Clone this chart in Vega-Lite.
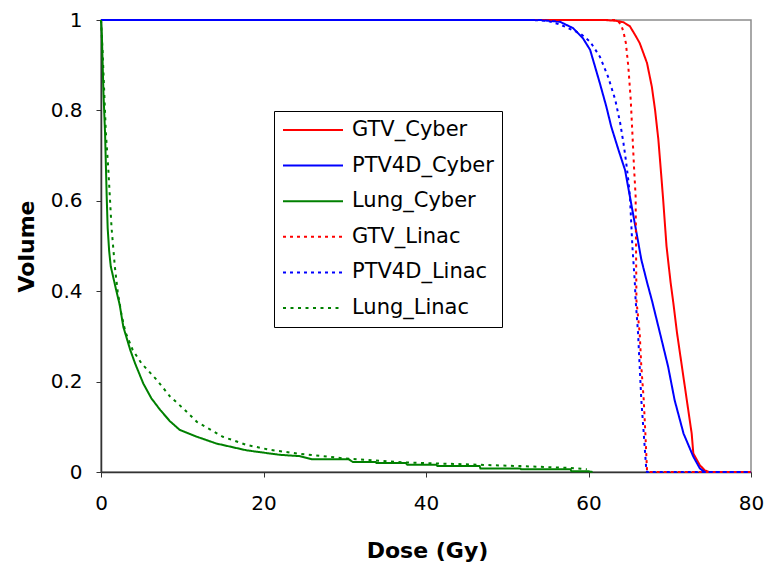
{
  "$schema": "https://vega.github.io/schema/vega-lite/v6.json",
  "autosize": "none",
  "width": 650,
  "height": 452,
  "padding": {"left": 101, "top": 20, "right": 13, "bottom": 94},
  "background": "white",
  "config": {
    "font": "DejaVu Sans",
    "view": {"stroke": "#8c8c8c", "strokeWidth": 1.5},
    "axis": {
      "grid": false,
      "domainColor": "#333333",
      "domainWidth": 1.5,
      "tickColor": "#333333",
      "tickSize": 5,
      "labelFont": "DejaVu Sans",
      "labelFontSize": 20,
      "labelColor": "black",
      "titleFont": "DejaVu Sans",
      "titleFontSize": 22,
      "titleFontWeight": "bold",
      "titleColor": "black"
    },
    "legend": {
      "orient": "none",
      "legendX": 173,
      "legendY": 91,
      "symbolType": "stroke",
      "symbolSize": 3600,
      "clipHeight": 22,
      "rowPadding": 13.6,
      "padding": 8,
      "labelOffset": 8,
      "labelFont": "DejaVu Sans",
      "labelFontSize": 21,
      "labelColor": "black",
      "strokeColor": "black",
      "fillColor": "white",
      "cornerRadius": 0
    }
  },
  "data": {
    "values": [
      {"s": "GTV_Cyber", "d": 0, "v": 1},
      {"s": "GTV_Cyber", "d": 62, "v": 1},
      {"s": "GTV_Cyber", "d": 63.5, "v": 0.998},
      {"s": "GTV_Cyber", "d": 64.3, "v": 0.995},
      {"s": "GTV_Cyber", "d": 65.1, "v": 0.986},
      {"s": "GTV_Cyber", "d": 65.8, "v": 0.965},
      {"s": "GTV_Cyber", "d": 66.3, "v": 0.949},
      {"s": "GTV_Cyber", "d": 67.2, "v": 0.905},
      {"s": "GTV_Cyber", "d": 67.8, "v": 0.852},
      {"s": "GTV_Cyber", "d": 68.2, "v": 0.8},
      {"s": "GTV_Cyber", "d": 68.6, "v": 0.735},
      {"s": "GTV_Cyber", "d": 69.0, "v": 0.646},
      {"s": "GTV_Cyber", "d": 69.2, "v": 0.6},
      {"s": "GTV_Cyber", "d": 69.6, "v": 0.5},
      {"s": "GTV_Cyber", "d": 70.1, "v": 0.42},
      {"s": "GTV_Cyber", "d": 70.4, "v": 0.38},
      {"s": "GTV_Cyber", "d": 70.9, "v": 0.307},
      {"s": "GTV_Cyber", "d": 71.5, "v": 0.233},
      {"s": "GTV_Cyber", "d": 72.1, "v": 0.159},
      {"s": "GTV_Cyber", "d": 72.7, "v": 0.085},
      {"s": "GTV_Cyber", "d": 72.9, "v": 0.041},
      {"s": "GTV_Cyber", "d": 73.7, "v": 0.015},
      {"s": "GTV_Cyber", "d": 74.3, "v": 0.004},
      {"s": "GTV_Cyber", "d": 74.8, "v": 0},
      {"s": "GTV_Cyber", "d": 80, "v": 0},

      {"s": "PTV4D_Cyber", "d": 0, "v": 1},
      {"s": "PTV4D_Cyber", "d": 54, "v": 1},
      {"s": "PTV4D_Cyber", "d": 56.5, "v": 0.996},
      {"s": "PTV4D_Cyber", "d": 58.1, "v": 0.982},
      {"s": "PTV4D_Cyber", "d": 59.3, "v": 0.96},
      {"s": "PTV4D_Cyber", "d": 60.2, "v": 0.934},
      {"s": "PTV4D_Cyber", "d": 60.8, "v": 0.897},
      {"s": "PTV4D_Cyber", "d": 61.4, "v": 0.86},
      {"s": "PTV4D_Cyber", "d": 62.2, "v": 0.808},
      {"s": "PTV4D_Cyber", "d": 62.8, "v": 0.764},
      {"s": "PTV4D_Cyber", "d": 63.7, "v": 0.712},
      {"s": "PTV4D_Cyber", "d": 64.5, "v": 0.668},
      {"s": "PTV4D_Cyber", "d": 65.1, "v": 0.609},
      {"s": "PTV4D_Cyber", "d": 65.8, "v": 0.54},
      {"s": "PTV4D_Cyber", "d": 66.5, "v": 0.47},
      {"s": "PTV4D_Cyber", "d": 67.2, "v": 0.42},
      {"s": "PTV4D_Cyber", "d": 67.8, "v": 0.38},
      {"s": "PTV4D_Cyber", "d": 68.8, "v": 0.307},
      {"s": "PTV4D_Cyber", "d": 69.8, "v": 0.233},
      {"s": "PTV4D_Cyber", "d": 70.6, "v": 0.159},
      {"s": "PTV4D_Cyber", "d": 71.7, "v": 0.085},
      {"s": "PTV4D_Cyber", "d": 72.9, "v": 0.034},
      {"s": "PTV4D_Cyber", "d": 73.7, "v": 0.008},
      {"s": "PTV4D_Cyber", "d": 74.3, "v": 0},
      {"s": "PTV4D_Cyber", "d": 80, "v": 0},

      {"s": "Lung_Cyber", "d": 0, "v": 1},
      {"s": "Lung_Cyber", "d": 0.1, "v": 0.97},
      {"s": "Lung_Cyber", "d": 0.3, "v": 0.84},
      {"s": "Lung_Cyber", "d": 0.5, "v": 0.75},
      {"s": "Lung_Cyber", "d": 0.6, "v": 0.68},
      {"s": "Lung_Cyber", "d": 0.7, "v": 0.61},
      {"s": "Lung_Cyber", "d": 0.82, "v": 0.54},
      {"s": "Lung_Cyber", "d": 1.0, "v": 0.49},
      {"s": "Lung_Cyber", "d": 1.2, "v": 0.455},
      {"s": "Lung_Cyber", "d": 1.9, "v": 0.4},
      {"s": "Lung_Cyber", "d": 2.3, "v": 0.37},
      {"s": "Lung_Cyber", "d": 2.75, "v": 0.321},
      {"s": "Lung_Cyber", "d": 3.6, "v": 0.27},
      {"s": "Lung_Cyber", "d": 4.2, "v": 0.24},
      {"s": "Lung_Cyber", "d": 5.2, "v": 0.196},
      {"s": "Lung_Cyber", "d": 6.2, "v": 0.163},
      {"s": "Lung_Cyber", "d": 7.3, "v": 0.137},
      {"s": "Lung_Cyber", "d": 8.5, "v": 0.112},
      {"s": "Lung_Cyber", "d": 9.7, "v": 0.093},
      {"s": "Lung_Cyber", "d": 11.8, "v": 0.078},
      {"s": "Lung_Cyber", "d": 14.2, "v": 0.063},
      {"s": "Lung_Cyber", "d": 17.9, "v": 0.048},
      {"s": "Lung_Cyber", "d": 22.0, "v": 0.038},
      {"s": "Lung_Cyber", "d": 24.5, "v": 0.035},
      {"s": "Lung_Cyber", "d": 26.0, "v": 0.028},
      {"s": "Lung_Cyber", "d": 30.5, "v": 0.028},
      {"s": "Lung_Cyber", "d": 31.0, "v": 0.022},
      {"s": "Lung_Cyber", "d": 33.8, "v": 0.022},
      {"s": "Lung_Cyber", "d": 33.9, "v": 0.02},
      {"s": "Lung_Cyber", "d": 37.5, "v": 0.02},
      {"s": "Lung_Cyber", "d": 37.7, "v": 0.016},
      {"s": "Lung_Cyber", "d": 41.3, "v": 0.016},
      {"s": "Lung_Cyber", "d": 41.4, "v": 0.013},
      {"s": "Lung_Cyber", "d": 46.6, "v": 0.013},
      {"s": "Lung_Cyber", "d": 46.7, "v": 0.008},
      {"s": "Lung_Cyber", "d": 51.6, "v": 0.008},
      {"s": "Lung_Cyber", "d": 51.7, "v": 0.006},
      {"s": "Lung_Cyber", "d": 57.8, "v": 0.006},
      {"s": "Lung_Cyber", "d": 57.9, "v": 0.0015},
      {"s": "Lung_Cyber", "d": 60.0, "v": 0.0015},
      {"s": "Lung_Cyber", "d": 60.5, "v": 0},

      {"s": "GTV_Linac", "d": 0, "v": 1},
      {"s": "GTV_Linac", "d": 63.5, "v": 1},
      {"s": "GTV_Linac", "d": 64.0, "v": 0.99},
      {"s": "GTV_Linac", "d": 64.3, "v": 0.974},
      {"s": "GTV_Linac", "d": 64.6, "v": 0.949},
      {"s": "GTV_Linac", "d": 64.9, "v": 0.897},
      {"s": "GTV_Linac", "d": 65.2, "v": 0.823},
      {"s": "GTV_Linac", "d": 65.4, "v": 0.75},
      {"s": "GTV_Linac", "d": 65.6, "v": 0.675},
      {"s": "GTV_Linac", "d": 65.8, "v": 0.61},
      {"s": "GTV_Linac", "d": 65.85, "v": 0.5},
      {"s": "GTV_Linac", "d": 65.9, "v": 0.38},
      {"s": "GTV_Linac", "d": 66.3, "v": 0.307},
      {"s": "GTV_Linac", "d": 66.5, "v": 0.233},
      {"s": "GTV_Linac", "d": 66.8, "v": 0.159},
      {"s": "GTV_Linac", "d": 67.0, "v": 0.085},
      {"s": "GTV_Linac", "d": 67.2, "v": 0.004},
      {"s": "GTV_Linac", "d": 67.3, "v": 0},
      {"s": "GTV_Linac", "d": 80, "v": 0},

      {"s": "PTV4D_Linac", "d": 0, "v": 1},
      {"s": "PTV4D_Linac", "d": 53, "v": 1},
      {"s": "PTV4D_Linac", "d": 55, "v": 0.998},
      {"s": "PTV4D_Linac", "d": 56.5, "v": 0.99},
      {"s": "PTV4D_Linac", "d": 59.0, "v": 0.97},
      {"s": "PTV4D_Linac", "d": 60.2, "v": 0.952},
      {"s": "PTV4D_Linac", "d": 61.4, "v": 0.919},
      {"s": "PTV4D_Linac", "d": 62.4, "v": 0.875},
      {"s": "PTV4D_Linac", "d": 63.3, "v": 0.823},
      {"s": "PTV4D_Linac", "d": 63.9, "v": 0.772},
      {"s": "PTV4D_Linac", "d": 64.3, "v": 0.728},
      {"s": "PTV4D_Linac", "d": 64.6, "v": 0.69},
      {"s": "PTV4D_Linac", "d": 64.9, "v": 0.646},
      {"s": "PTV4D_Linac", "d": 65.1, "v": 0.609},
      {"s": "PTV4D_Linac", "d": 65.4, "v": 0.5},
      {"s": "PTV4D_Linac", "d": 65.7, "v": 0.42},
      {"s": "PTV4D_Linac", "d": 65.8, "v": 0.38},
      {"s": "PTV4D_Linac", "d": 66.1, "v": 0.307},
      {"s": "PTV4D_Linac", "d": 66.3, "v": 0.233},
      {"s": "PTV4D_Linac", "d": 66.5, "v": 0.159},
      {"s": "PTV4D_Linac", "d": 66.8, "v": 0.085},
      {"s": "PTV4D_Linac", "d": 67.1, "v": 0.008},
      {"s": "PTV4D_Linac", "d": 67.2, "v": 0},
      {"s": "PTV4D_Linac", "d": 80, "v": 0},

      {"s": "Lung_Linac", "d": 0, "v": 1},
      {"s": "Lung_Linac", "d": 0.2, "v": 0.93},
      {"s": "Lung_Linac", "d": 0.4, "v": 0.84},
      {"s": "Lung_Linac", "d": 0.6, "v": 0.75},
      {"s": "Lung_Linac", "d": 0.9, "v": 0.67},
      {"s": "Lung_Linac", "d": 1.3, "v": 0.54},
      {"s": "Lung_Linac", "d": 1.7, "v": 0.455},
      {"s": "Lung_Linac", "d": 2.05, "v": 0.4},
      {"s": "Lung_Linac", "d": 2.5, "v": 0.35},
      {"s": "Lung_Linac", "d": 3.0, "v": 0.31},
      {"s": "Lung_Linac", "d": 3.9, "v": 0.27},
      {"s": "Lung_Linac", "d": 5.0, "v": 0.24},
      {"s": "Lung_Linac", "d": 6.85, "v": 0.204},
      {"s": "Lung_Linac", "d": 8.5, "v": 0.167},
      {"s": "Lung_Linac", "d": 10.1, "v": 0.141},
      {"s": "Lung_Linac", "d": 11.8, "v": 0.111},
      {"s": "Lung_Linac", "d": 15.0, "v": 0.078},
      {"s": "Lung_Linac", "d": 17.9, "v": 0.06},
      {"s": "Lung_Linac", "d": 20.8, "v": 0.049},
      {"s": "Lung_Linac", "d": 24.1, "v": 0.041},
      {"s": "Lung_Linac", "d": 27.8, "v": 0.034},
      {"s": "Lung_Linac", "d": 30.0, "v": 0.03},
      {"s": "Lung_Linac", "d": 37.5, "v": 0.021},
      {"s": "Lung_Linac", "d": 41.3, "v": 0.019},
      {"s": "Lung_Linac", "d": 46.6, "v": 0.016},
      {"s": "Lung_Linac", "d": 51.6, "v": 0.013},
      {"s": "Lung_Linac", "d": 57.8, "v": 0.009},
      {"s": "Lung_Linac", "d": 59.8, "v": 0.006}
    ]
  },
  "mark": {"type": "line", "interpolate": "linear"},
  "encoding": {
    "x": {
      "field": "d", "type": "quantitative", "title": "Dose (Gy)",
      "scale": {"domain": [0, 80], "nice": false},
      "axis": {"values": [0, 20, 40, 60, 80], "labelPadding": 16, "titleX": 326, "titleY": 85, "titleBaseline": "alphabetic", "labelFlush": false}
    },
    "y": {
      "field": "v", "type": "quantitative", "title": "Volume",
      "scale": {"domain": [0, 1], "nice": false},
      "axis": {"values": [0, 0.2, 0.4, 0.6, 0.8, 1], "format": "~g", "labelPadding": 14, "titleX": -68, "titleY": 226, "titleAngle": -90, "titleAlign": "center", "titleBaseline": "alphabetic", "labelFlush": false}
    },
    "color": {
      "field": "s", "type": "nominal", "title": null,
      "sort": ["GTV_Cyber", "PTV4D_Cyber", "Lung_Cyber", "GTV_Linac", "PTV4D_Linac", "Lung_Linac"],
      "scale": {
        "domain": ["GTV_Cyber", "PTV4D_Cyber", "Lung_Cyber", "GTV_Linac", "PTV4D_Linac", "Lung_Linac"],
        "range": ["#ff0000", "#0000ff", "#008000", "#ff0000", "#0000ff", "#008000"]
      }
    },
    "strokeDash": {
      "field": "s", "type": "nominal", "title": null,
      "scale": {
        "domain": ["GTV_Cyber", "PTV4D_Cyber", "Lung_Cyber", "GTV_Linac", "PTV4D_Linac", "Lung_Linac"],
        "range": [[1, 0], [1, 0], [1, 0], [3, 4], [3, 4], [3, 4.5]]
      }
    },
    "strokeWidth": {
      "field": "s", "type": "nominal", "title": null,
      "scale": {
        "domain": ["GTV_Cyber", "PTV4D_Cyber", "Lung_Cyber", "GTV_Linac", "PTV4D_Linac", "Lung_Linac"],
        "range": [2, 2, 2, 2.5, 2.5, 1.5]
      }
    }
  }
}
